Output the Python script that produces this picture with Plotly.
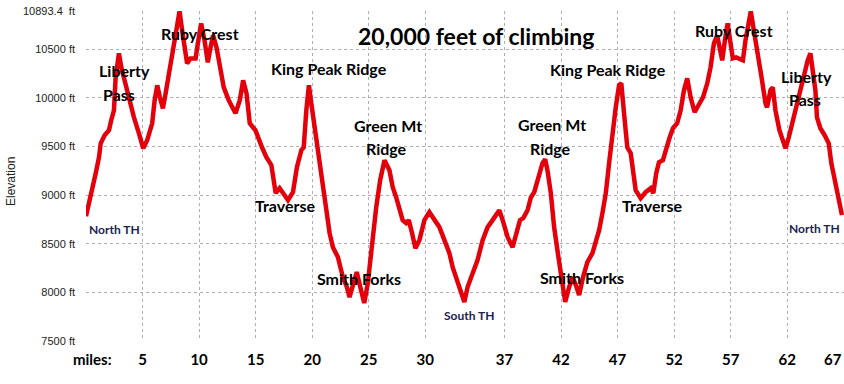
import plotly.graph_objects as go

# Trail distance (miles) and elevation (ft) read from the profile
miles = [0.0, 0.41, 0.86, 1.15, 1.30, 1.65, 2.03, 2.23, 2.47, 2.62, 2.91, 3.12, 3.35, 3.65, 4.24, 4.68,
         5.06, 5.41, 5.85, 6.07, 6.30, 6.53, 6.80, 7.04, 7.33, 7.62, 7.92, 8.27, 8.50, 8.80, 8.94, 9.24,
         9.69, 9.89, 10.18, 10.48, 10.77, 11.01, 11.24, 11.54, 11.89, 12.18, 12.62, 13.22, 13.60, 13.89,
         14.19, 14.48, 14.98, 15.27, 15.56, 15.95, 16.39, 16.77, 17.12, 17.56, 17.86, 18.30, 18.65, 19.04,
         19.25, 19.48, 19.71, 19.92, 20.36, 20.80, 21.24, 21.54, 21.83, 22.27, 22.71, 23.06, 23.30, 23.59,
         23.94, 24.25, 24.60, 24.92, 25.22, 25.66, 26.01, 26.39, 26.83, 27.12, 27.42, 27.71, 28.00, 28.31,
         28.54, 28.83, 29.13, 29.48, 29.92, 30.36, 30.80, 31.25, 31.69, 32.13, 32.42, 32.86, 33.16, 33.45,
         33.74, 34.18, 34.62, 35.07, 35.51, 35.95, 36.25, 36.54, 36.84, 37.28, 37.72, 38.07, 38.37, 38.66,
         39.04, 39.34, 39.63, 40.01, 40.36, 40.60, 40.80, 41.10, 41.39, 41.77, 42.07, 42.37, 42.72, 43.01,
         43.31, 43.60, 43.95, 44.33, 44.78, 45.07, 45.37, 45.66, 45.96, 46.25, 46.54, 46.84, 47.13, 47.33,
         47.57, 47.86, 48.16, 48.37, 48.60, 49.04, 49.48, 49.93, 50.16, 50.42, 50.66, 51.01, 51.31, 51.61,
         51.90, 52.27, 52.58, 52.87, 53.16, 53.46, 53.81, 54.19, 54.55, 54.93, 55.22, 55.52, 55.81, 56.02,
         56.25, 56.49, 56.73, 56.99, 57.19, 57.48, 57.78, 58.08, 58.31, 58.61, 58.78, 59.05, 59.34, 59.73,
         60.08, 60.22, 60.52, 60.72, 60.96, 61.31, 61.61, 61.85, 62.14, 62.58, 63.02, 63.46, 63.81, 64.05,
         64.25, 64.49, 64.63, 64.93, 65.31, 65.67, 65.90, 66.20, 66.49, 66.84]

elevation = [8784, 8979, 9225, 9390, 9533, 9616, 9667, 9770, 9872, 10211, 10458, 10314, 10211, 10047, 9800, 9636,
             9482, 9564, 9739, 9975, 10129, 10006, 9893, 10047, 10252, 10458, 10663, 10889, 10694, 10458, 10355, 10406,
             10406, 10560, 10766, 10591, 10365, 10519, 10643, 10519, 10283, 10109, 9975, 9842, 9975, 10180,
             10047, 9739, 9667, 9564, 9492, 9390, 9308, 9020, 9071, 8999, 8948, 9030, 9287, 9462,
             9492, 9872, 10129, 9944, 9564, 9184, 8815, 8609, 8465, 8363, 8157, 8055, 7952, 8055,
             8209, 8055, 7890, 8096, 8435, 8876, 9153, 9359, 9256, 9082, 8979, 8876, 8743, 8712,
             8743, 8609, 8455, 8537, 8743, 8825, 8743, 8671, 8537, 8404, 8260, 8096, 7993, 7901,
             8055, 8198, 8332, 8537, 8671, 8743, 8794, 8845, 8743, 8568, 8465, 8609, 8743, 8763,
             8845, 8979, 9030, 9184, 9328, 9369, 9256, 9020, 8671, 8363, 8126, 7901, 8055, 8157,
             8075, 7972, 8157, 8311, 8404, 8506, 8640, 8815, 9020, 9328, 9636, 9903, 10129, 10150,
             9842, 9492, 9431, 9225, 9051, 8969, 9030, 9071, 9020, 9225, 9338, 9359, 9492, 9595,
             9688, 9739, 9872, 10078, 10201, 10006, 9852, 9944, 10006, 10150, 10314, 10560, 10643, 10519,
             10386, 10591, 10766, 10560, 10406, 10417, 10406, 10386, 10591, 10827, 10889, 10694, 10458, 10211,
             9944, 9903, 10078, 10109, 9872, 9667, 9564, 9482, 9595, 9800, 10047, 10252, 10386, 10458,
             10314, 10078, 9800, 9688, 9616, 9533, 9328, 9153, 8979, 8794]

x_tick_vals = [0, 5, 10, 15, 20, 25, 30, 37, 42, 47, 52, 57, 62, 67]
x_tick_text = ["", "5", "10", "15", "20", "25", "30", "37", "42", "47", "52", "57", "62", ""]
last_tick_label = "67"
y_tick_vals = [7500, 8000, 8500, 9000, 9500, 10000, 10500, 10893.4]
y_tick_text = ["7500 ft", "8000 ft", "8500 ft", "9000 ft", "9500 ft", "10000 ft", "10500 ft", "10893.4  ft"]

title_text = "20,000 feet of climbing"
# (text, center px x, center px y, kind)
labels = [
    ("Liberty", 124, 71, "big"), ("Pass", 119, 95, "big"),
    ("Ruby Crest", 200, 33, "big"),
    ("King Peak Ridge", 329, 68, "big"),
    ("Green Mt", 388, 125, "big"), ("Ridge", 386, 148, "big"),
    ("Traverse", 285, 205, "big"),
    ("Smith Forks", 359, 278, "big"),
    ("South TH", 469, 315, "small"),
    ("North TH", 114, 230, "small"),
    ("Green Mt", 552, 124, "big"), ("Ridge", 550, 148, "big"),
    ("King Peak Ridge", 608, 69, "big"),
    ("Ruby Crest", 734, 30, "big"),
    ("Liberty", 806, 76, "big"), ("Pass", 805, 99, "big"),
    ("Traverse", 652, 205, "big"),
    ("Smith Forks", 582, 277, "big"),
    ("North TH", 814, 228, "small"),
]

W, H = 844, 384
L, R, T, B = 86, 0, 11, 43
PW, PH = W - L - R, H - T - B


def px(x):
    return (x - L) / PW


def py(y):
    return (H - B - y) / PH


fig = go.Figure()
fig.add_trace(go.Scatter(x=miles, y=elevation, mode="lines",
                         line=dict(color="#e3000b", width=4.5), hoverinfo="x+y"))

tick_font = dict(family="Lato", size=15, color="#000000", weight="bold")

ann = []
for text, cx, cy, kind in labels:
    if kind == "big":
        f = dict(family="Lato", size=16, color="#000000", weight="bold")
    else:
        f = dict(family="Lato", size=12, color="#1b2350", weight="bold")
    ann.append(dict(text=text, x=px(cx), y=py(cy), xref="paper", yref="paper",
                    xanchor="center", yanchor="middle", showarrow=False, font=f))
ann.append(dict(text=title_text, x=px(476), y=py(36), xref="paper", yref="paper",
                xanchor="center", yanchor="middle", showarrow=False,
                font=dict(family="Lato", size=23, color="#000000", weight="bold")))
ann.append(dict(text="miles:", x=px(92), y=py(359), xref="paper", yref="paper",
                xanchor="center", yanchor="middle", showarrow=False, font=tick_font))
ann.append(dict(text=last_tick_label, x=1.0, y=py(359), xref="paper", yref="paper",
                xanchor="right", yanchor="middle", showarrow=False, font=tick_font))
ann.append(dict(text="Elevation", x=px(11), y=py(182), xref="paper", yref="paper",
                xanchor="center", yanchor="middle", showarrow=False, textangle=-90,
                font=dict(family="Liberation Sans", size=12, color="#222222")))

fig.update_layout(
    width=W, height=H,
    margin=dict(l=L, r=R, t=T, b=B, pad=0, autoexpand=False),
    paper_bgcolor="white", plot_bgcolor="white",
    showlegend=False,
    annotations=ann,
    xaxis=dict(range=[0, 67.02], tickmode="array", tickvals=x_tick_vals, ticktext=x_tick_text,
               showgrid=True, gridcolor="#b4aab8", griddash="dot", gridwidth=1,
               zeroline=False, showline=False, ticks="", automargin=False,
               ticklabeloverflow="allow", tickfont=tick_font,
               ticklabelstandoff=8),
    yaxis=dict(range=[7500, 10893.4], tickmode="array", tickvals=y_tick_vals, ticktext=y_tick_text,
               showgrid=True, gridcolor="#b4aab8", griddash="dot", gridwidth=1,
               zeroline=False, showline=False, ticks="", automargin=False,
               tickfont=dict(family="Liberation Sans", size=11, color="#222222"),
               ticklabelstandoff=10),
)

fig.write_html("out.html", config={"displayModeBar": False},
               post_script="document.body.style.margin='0';document.body.style.overflow='hidden';")
